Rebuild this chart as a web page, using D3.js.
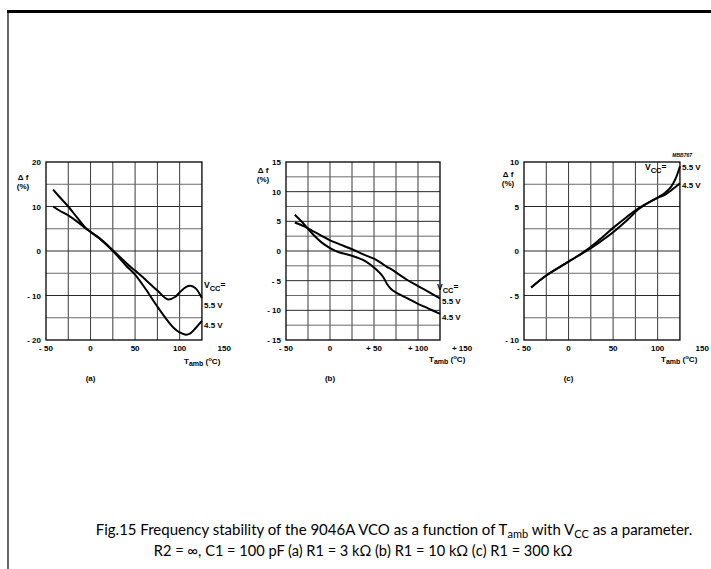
<!DOCTYPE html>
<html><head><meta charset="utf-8">
<script src="https://cdn.jsdelivr.net/npm/d3@7"></script>
<style>
html,body{margin:0;padding:0;background:#fff;}
svg text{font-family:"Liberation Sans",Arial,sans-serif;}
</style></head>
<body>
<svg id="c" width="711" height="569"></svg>
<script>
// ---- data ----
const xTicks = [-50, 0, 50, 100, 150];
const xTickLabelsA = ["- 50", "0", "50", "100", "150"];
const xTickLabelsB = ["- 50", "0", "+ 50", "+ 100", "+ 150"];
const xTickLabelsC = ["- 50", "0", "50", "100", "150"];

const yTicksA = [20, 10, 0, -10, -20];
const yTickLabelsA = ["20", "10", "0", "- 10", "- 20"];
const yTicksB = [15, 10, 5, 0, -5, -10, -15];
const yTickLabelsB = ["15", "10", "5", "0", "- 5", "- 10", "- 15"];
const yTicksC = [10, 5, 0, -5, -10];
const yTickLabelsC = ["10", "5", "0", "- 5", "- 10"];

const seriesNames = ["5.5 V", "4.5 V"];

const tempA = [-42, -35, -25, -15, -5, 0, 10, 25, 40, 50, 62, 75, 87, 95, 100, 107, 112, 118, 125];
const a55   = [10, 9.1, 8.0, 6.6, 5.0, 4.3, 2.9, 0.2, -2.7, -4.4, -6.5, -8.9, -10.9, -10.3, -9.3, -8.1, -7.8, -8.4, -10.6];
const a45   = [13.8, 12.2, 10, 7.5, 5.1, 4.3, 2.8, 0, -3.3, -5.3, -8.6, -12.5, -15.8, -17.6, -18.3, -18.8, -18.5, -17.3, -15.7];

const tempB = [-40, -30, -20, -10, 0, 10, 25, 40, 50, 60, 65, 70, 75, 87, 100, 112, 125];
const b55   = [4.8, 4.2, 3.4, 2.6, 1.8, 1.2, 0.3, -0.7, -1.3, -2.2, -2.7, -3.1, -3.6, -4.8, -5.9, -6.9, -8.0];
const b45   = [6.1, 4.6, 2.9, 1.5, 0.5, -0.2, -0.8, -1.7, -2.8, -4.3, -5.6, -6.5, -7.0, -7.9, -8.9, -9.7, -10.6];

const tempC = [-42, -25, 0, 20, 35, 50, 65, 80, 100, 108, 115, 120, 125];
const c55   = [-4.1, -2.75, -1.2, 0.1, 1.3, 2.6, 3.8, 4.9, 6.0, 6.5, 7.2, 8.1, 9.5];
const c45   = [-4.1, -2.75, -1.2, 0.0, 1.0, 2.1, 3.4, 4.8, 6.0, 6.3, 6.8, 7.2, 7.6];

// ---- drawing ----
const svg = d3.select("#c");
svg.append("rect").attr("width",711).attr("height",569).attr("fill","#fff");
// page border
svg.append("line").attr("x1",7).attr("x2",711).attr("y1",11.5).attr("y2",11.5).attr("stroke","#000").attr("stroke-width",3);
svg.append("line").attr("x1",8).attr("x2",8).attr("y1",11).attr("y2",569).attr("stroke","#000").attr("stroke-width",1.2);

function panel(cfg){
  const g = svg.append("g");
  const x = d3.scaleLinear().domain([-50,150]).range([cfg.left, cfg.left + 200*cfg.pxu]);
  const y = d3.scaleLinear().domain([-cfg.ymax, cfg.ymax]).range([340, 162]);
  const xEnd = x(125);
  // grid
  const vlines = d3.range(-25, 125, 25);
  g.selectAll(".v").data(vlines).join("line")
    .attr("x1",d=>x(d)).attr("x2",d=>x(d)).attr("y1",y(cfg.ymax)).attr("y2",y(-cfg.ymax))
    .attr("stroke","#3a3a3a").attr("stroke-width",1);
  const hlines = d3.range(-cfg.ymax + cfg.gstep, cfg.ymax - 0.001, cfg.gstep);
  g.selectAll(".h").data(hlines).join("line")
    .attr("x1",x(-50)).attr("x2",xEnd).attr("y1",d=>y(d)).attr("y2",d=>y(d))
    .attr("stroke",d=> (Math.abs(d % cfg.major) < 1e-6) ? "#2a2a2a" : "#6a6a6a")
    .attr("stroke-width",1);
  // frame
  g.append("rect").attr("x",x(-50)).attr("y",y(cfg.ymax)).attr("width",xEnd-x(-50)).attr("height",y(-cfg.ymax)-y(cfg.ymax))
    .attr("fill","none").attr("stroke","#000").attr("stroke-width",1.3);
  // x tick labels
  g.selectAll(".xt").data(xTicks).join("text")
    .attr("x",d=>x(d)).attr("y",351).attr("text-anchor","middle")
    .attr("font-size",8).attr("font-weight","bold").text((d,i)=>cfg.xLabels[i]);
  // y tick labels
  g.selectAll(".yt").data(cfg.yTicks).join("text")
    .attr("x",x(-50)-5).attr("y",d=>y(d)+3).attr("text-anchor","end")
    .attr("font-size",8).attr("font-weight","bold").text((d,i)=>cfg.yLabels[i]);
  // y axis title
  g.append("text").attr("x",cfg.ytx).attr("y",cfg.yty).attr("text-anchor","middle")
    .attr("font-size",8).attr("font-weight","bold").text("\u0394 f");
  g.append("text").attr("x",cfg.ytx).attr("y",cfg.yty+9).attr("text-anchor","middle")
    .attr("font-size",8).attr("font-weight","bold").text("(%)");
  // x axis title
  const t = g.append("text").attr("x",cfg.txx).attr("y",cfg.txy).attr("font-size",8).attr("font-weight","bold");
  t.append("tspan").text("T");
  t.append("tspan").attr("dy",2).attr("font-size",7).text("amb");
  t.append("tspan").attr("dy",-2).text(" (");
  t.append("tspan").attr("dy",-3).attr("font-size",6).text("o");
  t.append("tspan").attr("dy",3).text("C)");
  // panel letter
  g.append("text").attr("x",x(0)).attr("y",381).attr("text-anchor","middle")
    .attr("font-size",8).attr("font-weight","bold").text(cfg.letter);
  // curves
  const line = d3.line().x(d=>x(d[0])).y(d=>y(d[1])).curve(d3.curveCatmullRom.alpha(0.5));
  cfg.series.forEach(s=>{
    g.append("path").datum(cfg.temps.map((t,i)=>[t,s[i]]))
      .attr("d",line).attr("fill","none").attr("stroke","#000").attr("stroke-width",2);
  });
  // VCC labels
  const v = g.append("text").attr("x",cfg.vx).attr("y",cfg.vy).attr("font-size",8.5).attr("font-weight","bold");
  v.append("tspan").text("V");
  v.append("tspan").attr("dy",2.5).attr("font-size",7.5).text("CC");
  v.append("tspan").attr("dy",-2.5).text("=");
  seriesNames.forEach((n,i)=>{
    g.append("text").attr("x",cfg.lx).attr("y",cfg.ly[i]).attr("font-size",8).attr("font-weight","bold").text(n);
  });
  return {x,y};
}

panel({left:46, pxu:0.891, ymax:20, gstep:5, major:10, xLabels:xTickLabelsA, yTicks:yTicksA, yLabels:yTickLabelsA,
  ytx:23, yty:180, txx:184, txy:364, letter:"(a)", temps:tempA, series:[a55,a45],
  vx:204, vy:288, lx:204, ly:[308,328]});
panel({left:286, pxu:0.88, ymax:15, gstep:2.5, major:5, xLabels:xTickLabelsB, yTicks:yTicksB, yLabels:yTickLabelsB,
  ytx:263, yty:173, txx:429, txy:362, letter:"(b)", temps:tempB, series:[b55,b45],
  vx:437, vy:290, lx:442, ly:[304,320]});
panel({left:524, pxu:0.891, ymax:10, gstep:2.5, major:5, xLabels:xTickLabelsC, yTicks:yTicksC, yLabels:yTickLabelsC,
  ytx:508, yty:177, txx:661, txy:362, letter:"(c)", temps:tempC, series:[c55,c45],
  vx:645, vy:170, lx:682, ly:[170,188]});
svg.append("text").attr("x",692).attr("y",157).attr("text-anchor","end").attr("font-size",5)
  .attr("font-weight","bold").attr("font-style","italic").text("MBB767");

// caption
const cap = svg.append("g").attr("font-size",15).attr("fill","#000");
const l1 = cap.append("text").attr("x",394).attr("y",535).attr("text-anchor","middle").style("font-family","Lato, 'Open Sans', sans-serif");
l1.append("tspan").text("Fig.15  Frequency stability of the 9046A VCO as a function of T");
l1.append("tspan").attr("dy",3).attr("font-size",11).text("amb");
l1.append("tspan").attr("dy",-3).text(" with V");
l1.append("tspan").attr("dy",3).attr("font-size",11).text("CC");
l1.append("tspan").attr("dy",-3).text(" as a parameter.");
cap.append("text").attr("x",363).attr("y",556).attr("text-anchor","middle").attr("font-size",14.6).style("font-family","Lato, 'Open Sans', sans-serif")
  .text("R2 = \u221E, C1 = 100 pF (a) R1 = 3 k\u03A9 (b) R1 = 10 k\u03A9 (c) R1 = 300 k\u03A9");
</script>
</body></html>
